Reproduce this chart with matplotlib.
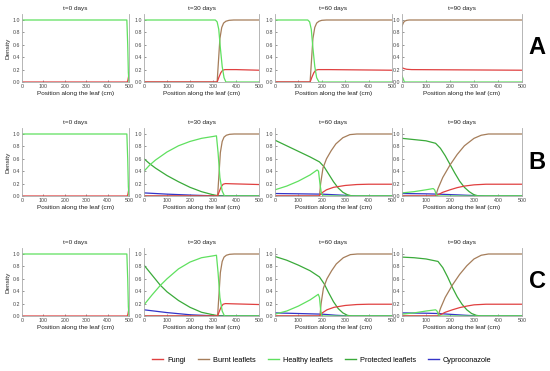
import matplotlib
matplotlib.use("Agg")
import matplotlib.pyplot as plt
from matplotlib.lines import Line2D

plt.rcParams['font.family'] = ['Liberation Sans', 'DejaVu Sans']

# colours of the five populations
c_fungi = '#e04040'
c_burnt = '#a57d5a'
c_healthy = '#5fe05f'
c_protected = '#3aaa3a'
c_cypro = '#3434c8'

series_names = ['Fungi', 'Burnt leaflets', 'Healthy leaflets', 'Protected leaflets', 'Cyproconazole']
row_letters = ['A', 'B', 'C']
times = [0, 30, 60, 90]

# ---- t = 0 (same for all rows) ----
t0_x_healthy = [0, 490, 494, 497, 500]
t0_healthy = [1.0, 1.0, 0.6, 0.15, 0.0]
t0_x_fungi = [0, 492, 495, 498, 500]
t0_fungi = [0.0, 0.0, 0.03, 0.09, 0.15]

# ---- row A ----
a30_x_healthy = [0, 310, 318, 325, 332, 340, 348, 356, 500]
a30_healthy = [1.0, 1.0, 0.97, 0.85, 0.55, 0.25, 0.07, 0.0, 0.0]
a30_x_burnt = [0, 318, 324, 330, 338, 346, 356, 370, 390, 500]
a30_burnt = [0.0, 0.0, 0.35, 0.7, 0.88, 0.95, 0.98, 0.995, 1.0, 1.0]
a30_x_fungi = [0, 318, 326, 334, 342, 352, 400, 500]
a30_fungi = [0.0, 0.0, 0.08, 0.15, 0.19, 0.2, 0.2, 0.19]

a60_x_healthy = [0, 140, 148, 155, 162, 170, 178, 188, 500]
a60_healthy = [1.0, 1.0, 0.97, 0.85, 0.55, 0.25, 0.07, 0.0, 0.0]
a60_x_burnt = [0, 150, 156, 162, 170, 178, 188, 200, 220, 500]
a60_burnt = [0.0, 0.0, 0.35, 0.7, 0.88, 0.95, 0.98, 0.995, 1.0, 1.0]
a60_x_fungi = [0, 150, 158, 166, 174, 184, 230, 500]
a60_fungi = [0.0, 0.0, 0.08, 0.15, 0.19, 0.2, 0.2, 0.19]

a90_x_healthy = [0, 5, 10, 500]
a90_healthy = [0.1, 0.05, 0.0, 0.0]
a90_x_burnt = [0, 5, 10, 20, 30, 500]
a90_burnt = [0.9, 0.95, 0.98, 0.995, 1.0, 1.0]
a90_x_fungi = [0, 10, 20, 40, 500]
a90_fungi = [0.23, 0.215, 0.205, 0.2, 0.19]

# ---- row B ----
b30_x_healthy = [0, 25, 50, 100, 150, 200, 250, 300, 315, 322, 330, 340, 350, 500]
b30_healthy = [0.4, 0.5, 0.58, 0.71, 0.81, 0.88, 0.93, 0.96, 0.97, 0.7, 0.3, 0.08, 0.0, 0.0]
b30_x_protected = [0, 25, 50, 100, 150, 200, 250, 300, 330, 500]
b30_protected = [0.6, 0.52, 0.45, 0.33, 0.23, 0.14, 0.07, 0.02, 0.0, 0.0]
b30_x_cypro = [0, 100, 200, 300, 500]
b30_cypro = [0.05, 0.03, 0.015, 0.003, 0.0]
b30_x_burnt = [0, 320, 326, 332, 340, 348, 358, 372, 392, 500]
b30_burnt = [0.0, 0.0, 0.35, 0.7, 0.88, 0.95, 0.98, 0.995, 1.0, 1.0]
b30_x_fungi = [0, 320, 328, 336, 344, 354, 400, 500]
b30_fungi = [0.0, 0.0, 0.08, 0.15, 0.19, 0.2, 0.195, 0.185]

b60_x_healthy = [0, 50, 100, 150, 180, 186, 192, 198, 205, 500]
b60_healthy = [0.1, 0.16, 0.24, 0.34, 0.42, 0.4, 0.2, 0.05, 0.0, 0.0]
b60_x_protected = [0, 50, 100, 150, 190, 210, 230, 250, 270, 290, 310, 330, 500]
b60_protected = [0.9, 0.81, 0.72, 0.63, 0.55, 0.47, 0.35, 0.23, 0.13, 0.06, 0.02, 0.0, 0.0]
b60_x_cypro = [0, 100, 200, 280, 350, 500]
b60_cypro = [0.04, 0.035, 0.03, 0.015, 0.0, 0.0]
b60_x_burnt = [0, 190, 195, 205, 220, 240, 260, 290, 320, 350, 500]
b60_burnt = [0.0, 0.0, 0.2, 0.45, 0.6, 0.73, 0.84, 0.94, 0.99, 1.0, 1.0]
b60_x_fungi = [0, 188, 200, 220, 250, 300, 350, 400, 500]
b60_fungi = [0.0, 0.0, 0.05, 0.1, 0.14, 0.17, 0.185, 0.19, 0.19]

b90_x_healthy = [0, 50, 100, 130, 136, 142, 148, 500]
b90_healthy = [0.05, 0.07, 0.1, 0.12, 0.1, 0.03, 0.0, 0.0]
b90_x_protected = [0, 50, 100, 140, 160, 180, 200, 220, 240, 260, 280, 300, 320, 500]
b90_protected = [0.93, 0.91, 0.89, 0.85, 0.77, 0.65, 0.51, 0.37, 0.24, 0.14, 0.07, 0.02, 0.0, 0.0]
b90_x_cypro = [0, 100, 150, 250, 350, 500]
b90_cypro = [0.04, 0.035, 0.03, 0.015, 0.0, 0.0]
b90_x_burnt = [0, 140, 150, 170, 200, 230, 260, 300, 330, 360, 500]
b90_burnt = [0.0, 0.0, 0.12, 0.3, 0.5, 0.67, 0.81, 0.93, 0.98, 1.0, 1.0]
b90_x_fungi = [0, 140, 170, 200, 230, 260, 300, 350, 500]
b90_fungi = [0.0, 0.0, 0.06, 0.1, 0.135, 0.16, 0.18, 0.19, 0.19]

# ---- row C ----
c30_x_healthy = [0, 35, 70, 100, 150, 200, 250, 300, 315, 322, 330, 340, 350, 500]
c30_healthy = [0.18, 0.34, 0.49, 0.6, 0.76, 0.87, 0.94, 0.97, 0.98, 0.7, 0.3, 0.08, 0.0, 0.0]
c30_x_protected = [0, 35, 70, 100, 150, 200, 250, 300, 330, 500]
c30_protected = [0.82, 0.66, 0.5, 0.39, 0.25, 0.14, 0.06, 0.02, 0.0, 0.0]
c30_x_cypro = [0, 100, 200, 300, 500]
c30_cypro = [0.1, 0.055, 0.02, 0.003, 0.0]
c30_x_burnt = [0, 320, 326, 332, 340, 348, 358, 372, 392, 500]
c30_burnt = [0.0, 0.0, 0.35, 0.7, 0.88, 0.95, 0.98, 0.995, 1.0, 1.0]
c30_x_fungi = [0, 320, 328, 336, 344, 354, 400, 500]
c30_fungi = [0.0, 0.0, 0.08, 0.15, 0.19, 0.2, 0.195, 0.185]

c60_x_healthy = [0, 50, 100, 150, 185, 190, 195, 200, 500]
c60_healthy = [0.03, 0.08, 0.16, 0.26, 0.35, 0.3, 0.1, 0.0, 0.0]
c60_x_protected = [0, 50, 100, 150, 190, 210, 230, 250, 270, 290, 310, 330, 500]
c60_protected = [0.96, 0.9, 0.82, 0.73, 0.63, 0.52, 0.37, 0.23, 0.12, 0.05, 0.01, 0.0, 0.0]
c60_x_cypro = [0, 100, 200, 260, 320, 500]
c60_cypro = [0.05, 0.04, 0.03, 0.012, 0.0, 0.0]
c60_x_burnt = [0, 192, 197, 207, 222, 242, 262, 292, 322, 352, 500]
c60_burnt = [0.0, 0.0, 0.2, 0.45, 0.6, 0.73, 0.84, 0.94, 0.99, 1.0, 1.0]
c60_x_fungi = [0, 190, 202, 222, 252, 300, 350, 400, 500]
c60_fungi = [0.0, 0.0, 0.05, 0.1, 0.14, 0.17, 0.185, 0.19, 0.19]

c90_x_healthy = [0, 50, 100, 140, 146, 152, 157, 500]
c90_healthy = [0.03, 0.05, 0.08, 0.1, 0.08, 0.02, 0.0, 0.0]
c90_x_protected = [0, 50, 100, 150, 170, 190, 210, 230, 250, 270, 290, 310, 330, 500]
c90_protected = [0.95, 0.94, 0.92, 0.88, 0.78, 0.63, 0.46, 0.31, 0.19, 0.1, 0.04, 0.01, 0.0, 0.0]
c90_x_cypro = [0, 100, 150, 250, 320, 500]
c90_cypro = [0.05, 0.045, 0.04, 0.015, 0.0, 0.0]
c90_x_burnt = [0, 150, 160, 180, 210, 240, 270, 300, 330, 360, 500]
c90_burnt = [0.0, 0.0, 0.12, 0.3, 0.5, 0.67, 0.81, 0.92, 0.98, 1.0, 1.0]
c90_x_fungi = [0, 150, 180, 210, 240, 270, 300, 350, 500]
c90_fungi = [0.0, 0.0, 0.06, 0.1, 0.135, 0.16, 0.18, 0.19, 0.19]

# curves drawn in each panel: (x, y, colour)
t0_curves = [(t0_x_fungi, t0_fungi, c_fungi), (t0_x_healthy, t0_healthy, c_healthy)]
panels = [
    [t0_curves,
     [(a30_x_burnt, a30_burnt, c_burnt), (a30_x_fungi, a30_fungi, c_fungi), (a30_x_healthy, a30_healthy, c_healthy)],
     [(a60_x_burnt, a60_burnt, c_burnt), (a60_x_fungi, a60_fungi, c_fungi), (a60_x_healthy, a60_healthy, c_healthy)],
     [(a90_x_burnt, a90_burnt, c_burnt), (a90_x_fungi, a90_fungi, c_fungi), (a90_x_healthy, a90_healthy, c_healthy)]],
    [t0_curves,
     [(b30_x_cypro, b30_cypro, c_cypro), (b30_x_protected, b30_protected, c_protected), (b30_x_burnt, b30_burnt, c_burnt),
      (b30_x_fungi, b30_fungi, c_fungi), (b30_x_healthy, b30_healthy, c_healthy)],
     [(b60_x_cypro, b60_cypro, c_cypro), (b60_x_protected, b60_protected, c_protected), (b60_x_burnt, b60_burnt, c_burnt),
      (b60_x_fungi, b60_fungi, c_fungi), (b60_x_healthy, b60_healthy, c_healthy)],
     [(b90_x_cypro, b90_cypro, c_cypro), (b90_x_protected, b90_protected, c_protected), (b90_x_burnt, b90_burnt, c_burnt),
      (b90_x_fungi, b90_fungi, c_fungi), (b90_x_healthy, b90_healthy, c_healthy)]],
    [t0_curves,
     [(c30_x_cypro, c30_cypro, c_cypro), (c30_x_protected, c30_protected, c_protected), (c30_x_burnt, c30_burnt, c_burnt),
      (c30_x_fungi, c30_fungi, c_fungi), (c30_x_healthy, c30_healthy, c_healthy)],
     [(c60_x_cypro, c60_cypro, c_cypro), (c60_x_protected, c60_protected, c_protected), (c60_x_burnt, c60_burnt, c_burnt),
      (c60_x_fungi, c60_fungi, c_fungi), (c60_x_healthy, c60_healthy, c_healthy)],
     [(c90_x_cypro, c90_cypro, c_cypro), (c90_x_protected, c90_protected, c_protected), (c90_x_burnt, c90_burnt, c_burnt),
      (c90_x_fungi, c90_fungi, c_fungi), (c90_x_healthy, c90_healthy, c_healthy)]],
]

W, H = 550, 371
fig = plt.figure(figsize=(W / 100, H / 100), dpi=100)

# panel boxes in pixels
col_left = [22, 144, 275, 402]
col_right = [129, 259, 392, 522]
row_zero = [82, 196, 316]   # pixel row of y=0
unit = 62                   # pixels per density unit
ytop = 1.1

for r in range(3):
    for c in range(4):
        bottom = H - row_zero[r]
        height = unit * ytop
        ax = fig.add_axes([col_left[c] / W, bottom / H, (col_right[c] - col_left[c]) / W, height / H])
        for x, y, col in panels[r][c]:
            ax.plot(x, y, color=col, lw=0.9)
        ax.set_xlim(0, 500)
        ax.set_ylim(0, ytop)
        ax.set_xticks([0, 100, 200, 300, 400, 500])
        ax.set_yticks([0.0, 0.2, 0.4, 0.6, 0.8, 1.0])
        ax.set_yticklabels(['0.0', '0.2', '0.4', '0.6', '0.8', '1.0'])
        ax.tick_params(direction='in', length=1.5, width=0.4, labelsize=3.8, colors='#444444', pad=1.2)
        for side in ['left', 'bottom', 'right']:
            ax.spines[side].set_color('#aaaaaa')
            ax.spines[side].set_linewidth(0.6)
        ax.spines['top'].set_visible(False)
        ax.spines['right'].set_linestyle((0, (2, 1)))
        ax.set_title('t=%d days' % times[c], fontsize=4.6, pad=3, color='#222222')
        ax.set_xlabel('Position along the leaf (cm)', fontsize=4.6, labelpad=2, color='#222222')
        if c == 0:
            ax.set_ylabel('Density', fontsize=4.6, labelpad=1.5, color='#222222')
    fig.text(537 / W, 1 - (row_zero[r] - 34) / H, row_letters[r], fontsize=17, fontweight='bold',
             ha='center', va='center')

handles = [Line2D([], [], color=col, lw=1.0) for col in [c_fungi, c_burnt, c_healthy, c_protected, c_cypro]]
fig.legend(handles, series_names, loc='center', bbox_to_anchor=(322 / W, 1 - 360 / H), ncol=5,
           frameon=False, fontsize=5.3, handlelength=1.5, handletextpad=0.5, columnspacing=1.7)

fig.savefig('out.png', dpi=100)
